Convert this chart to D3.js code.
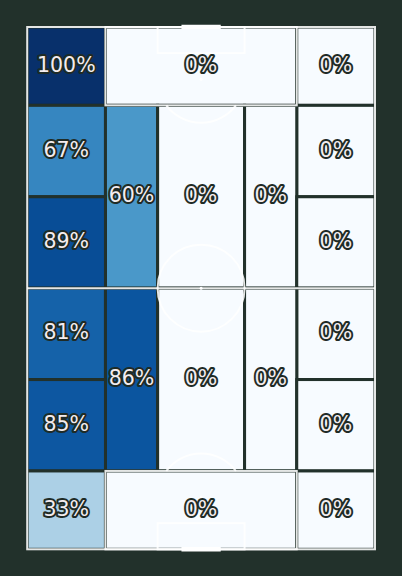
<!DOCTYPE html>
<html>
<head>
<meta charset="utf-8">
<script src="https://cdn.jsdelivr.net/npm/d3@7"></script>
<style>
    body { margin: 0; background: #22312b; }
    svg { display: block; }
</style>
</head>
<body>
<div id="main"></div>
<script>
// positional zones on a 120 x 80 pitch: [width start, width end, length start, length end]
const zones = [
    [0, 18, 102, 120], [18, 62, 102, 120], [62, 80, 102, 120],
    [0, 18, 81, 102], [62, 80, 81, 102],
    [18, 30, 60, 102], [30, 50, 60, 102], [50, 62, 60, 102],
    [0, 18, 60, 81], [62, 80, 60, 81],
    [0, 18, 39, 60], [62, 80, 39, 60],
    [18, 30, 18, 60], [30, 50, 18, 60], [50, 62, 18, 60],
    [0, 18, 18, 39], [62, 80, 18, 39],
    [0, 18, 0, 18], [18, 62, 0, 18], [62, 80, 0, 18]
]
const zoneValues = [
    1.00, 0, 0,
    0.67, 0,
    0.60, 0, 0,
    0.89, 0,
    0.81, 0,
    0.86, 0, 0,
    0.85, 0,
    0.33, 0, 0
]
// matplotlib "Blues"
const bluesStops = ['#f7fbff', '#deebf7', '#c6dbef', '#9ecae1', '#6baed6', '#4292c6', '#2171b5', '#08519c', '#08306b']

const ctx = {
    w: 402,
    h: 576,
    bg: '#22312b',
    left: 27.2,
    right: 375,
    top: 27,
    bottom: 549.3
}

function createViz() {
    let svg = d3.select('#main').append('svg')
        .attr('width', ctx.w)
        .attr('height', ctx.h)
    svg.append('rect').attr('width', ctx.w).attr('height', ctx.h).attr('fill', ctx.bg)

    // vertical pitch: width runs left->right, length runs bottom->top
    let x = d3.scaleLinear().domain([0, 80]).range([ctx.left, ctx.right])
    let y = d3.scaleLinear().domain([0, 120]).range([ctx.bottom, ctx.top])
    let color = d3.scaleLinear()
        .domain(d3.range(bluesStops.length).map(i => i / (bluesStops.length - 1)))
        .range(bluesStops)

    let data = zones.map((z, i) => ({ w0: z[0], w1: z[1], l0: z[2], l1: z[3], v: zoneValues[i] }))

    // heatmap cells
    svg.append('g').selectAll('rect')
        .data(data)
        .join('rect')
        .attr('x', d => x(d.w0))
        .attr('y', d => y(d.l1))
        .attr('width', d => x(d.w1) - x(d.w0))
        .attr('height', d => y(d.l0) - y(d.l1))
        .attr('fill', d => color(d.v))
        .attr('stroke', ctx.bg)
        .attr('stroke-width', 3)

    drawPitch(svg, x, y)

    // labels
    svg.append('g').selectAll('text')
        .data(data)
        .join('text')
        .attr('x', d => (x(d.w0) + x(d.w1)) / 2)
        .attr('y', d => (y(d.l0) + y(d.l1)) / 2 - 1.5)
        .attr('text-anchor', 'middle')
        .attr('dominant-baseline', 'central')
        .attr('font-family', 'DejaVu Sans')
        .attr('font-size', 20.5)
        .attr('fill', '#f4edf0')
        .attr('stroke', '#1f2b26')
        .attr('stroke-width', 4)
        .attr('stroke-linejoin', 'round')
        .attr('paint-order', 'stroke')
        .text(d => Math.round(d.v * 100) + '%')
}

function drawPitch(svg, x, y) {
    let g = svg.append('g')
        .attr('fill', 'none')
        .attr('stroke', 'white')
        .attr('stroke-opacity', 0.88)
        .attr('stroke-width', 2)
    let k = x(1) - x(0)

    let box = (w0, w1, l0, l1) => g.append('rect')
        .attr('x', x(w0)).attr('y', y(l1))
        .attr('width', x(w1) - x(w0)).attr('height', y(l0) - y(l1))

    box(0, 80, 0, 120)
    // penalty areas and six yard boxes
    box(18, 62, 0, 18)
    box(18, 62, 102, 120)
    box(30, 50, 0, 6)
    box(30, 50, 114, 120)

    // halfway line
    g.append('line')
        .attr('x1', x(0)).attr('x2', x(80))
        .attr('y1', y(60)).attr('y2', y(60))

    // centre circle + spots
    g.append('circle').attr('cx', x(40)).attr('cy', y(60)).attr('r', 10 * k)
    svg.append('g').attr('fill', 'white').selectAll('circle')
        .data([[40, 60], [40, 12], [40, 108]])
        .join('circle')
        .attr('cx', d => x(d[0]))
        .attr('cy', d => y(d[1]))
        .attr('r', 1.5)

    // penalty arcs (part outside the box)
    let a = Math.acos(6 / 10)
    let p1 = d3.path()
    p1.arc(x(40), y(108), 10 * k, Math.PI / 2 + a, Math.PI / 2 - a, true)
    g.append('path').attr('d', p1.toString())
    let p2 = d3.path()
    p2.arc(x(40), y(12), 10 * k, -Math.PI / 2 - a, -Math.PI / 2 + a, false)
    g.append('path').attr('d', p2.toString())

    // goals
    let goals = svg.append('g')
        .attr('stroke', 'white')
        .attr('stroke-width', 4.5)
        .attr('stroke-linecap', 'square')
    ;[0, 120].forEach(l => {
        goals.append('line')
            .attr('x1', x(36)).attr('x2', x(44))
            .attr('y1', y(l)).attr('y2', y(l))
    })
}

createViz()
</script>
</body>
</html>
